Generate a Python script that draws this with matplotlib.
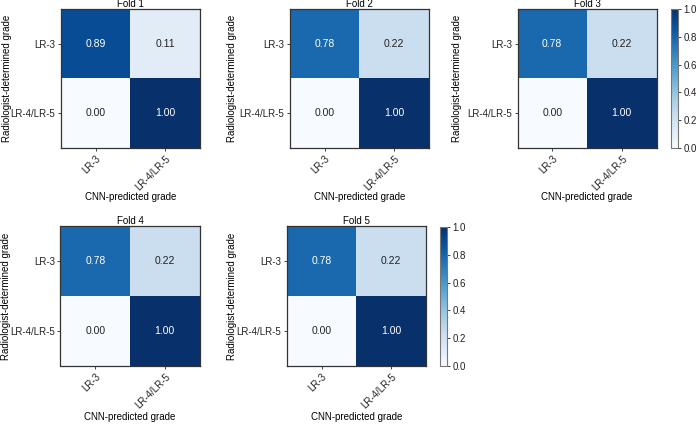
import matplotlib
matplotlib.use("Agg")
import matplotlib.pyplot as plt
import numpy as np

plt.rcParams["font.family"] = ["Liberation Sans", "DejaVu Sans"]
plt.rcParams["font.size"] = 7

classes = ["LR-3", "LR-4/LR-5"]
folds = ["Fold 1", "Fold 2", "Fold 3", "Fold 4", "Fold 5"]
fold1 = [[0.89, 0.11], [0.00, 1.00]]
fold2 = [[0.78, 0.22], [0.00, 1.00]]
fold3 = [[0.78, 0.22], [0.00, 1.00]]
fold4 = [[0.78, 0.22], [0.00, 1.00]]
fold5 = [[0.78, 0.22], [0.00, 1.00]]
mats = [fold1, fold2, fold3, fold4, fold5]

W, H = 698, 424
fig = plt.figure(figsize=(W / 100, H / 100), dpi=100)


def rect(x, y, w, h):                      # pixel box -> figure fraction
    return [x / W, 1 - (y + h) / H, w / W, h / H]


# axes placement in pixels (left, top, width, height)
pos = [(61, 9, 139, 139), (290, 9, 139, 139), (517.5, 9, 139, 139),
       (60.5, 226, 139, 140), (287, 226, 139, 140)]
ylab_x = [7, 232, 457, 6, 232]             # pixel x of y-label centre
xlab_y = [197, 197, 197, 417, 417]         # pixel y of x-label centre
cbpos = {2: (671, 9, 7, 139), 4: (440, 227, 7, 139)}

for i, (name, m) in enumerate(zip(folds, mats)):
    m = np.array(m)
    x0, y0, w, h = pos[i]
    ax = fig.add_axes(rect(x0, y0, w, h))
    im = ax.imshow(m, cmap="Blues", vmin=0, vmax=1, aspect="auto")
    for r in range(2):
        for c in range(2):
            ax.text(c, r, f"{m[r, c]:.2f}", ha="center", va="center", fontsize=7.5,
                    color="white" if m[r, c] > 0.5 else "#222")
    ax.set_xticks([0, 1])
    ax.set_xticklabels(classes, rotation=45, ha="right", rotation_mode="anchor")
    ax.set_yticks([0, 1])
    ax.set_yticklabels(classes)
    ax.tick_params(length=2.5, width=0.6, pad=1.5, colors="#222")
    ax.set_xlabel("CNN-predicted grade", va="center")
    ax.xaxis.set_label_coords(0.5, 1 - (xlab_y[i] - y0) / h)
    ax.set_ylabel("Radiologist-determined grade", va="center")
    ax.yaxis.set_label_coords((ylab_x[i] - x0) / w, 0.5)
    ax.set_title(name, fontsize=7, pad=1.5)
    for s in ax.spines.values():
        s.set_color("#333")
        s.set_linewidth(0.9)
    if i in cbpos:
        cax = fig.add_axes(rect(*cbpos[i]))
        cb = fig.colorbar(im, cax=cax, ticks=np.arange(0, 1.01, 0.2))
        cb.ax.set_yticklabels([f"{t:.1f}" for t in np.arange(0, 1.01, 0.2)])
        cb.ax.tick_params(length=2.5, width=0.6, pad=1.5, colors="#222", labelsize=7)
        cb.outline.set_edgecolor("#777")
        cb.outline.set_linewidth(0.8)

plt.savefig("out.png", dpi=100)
